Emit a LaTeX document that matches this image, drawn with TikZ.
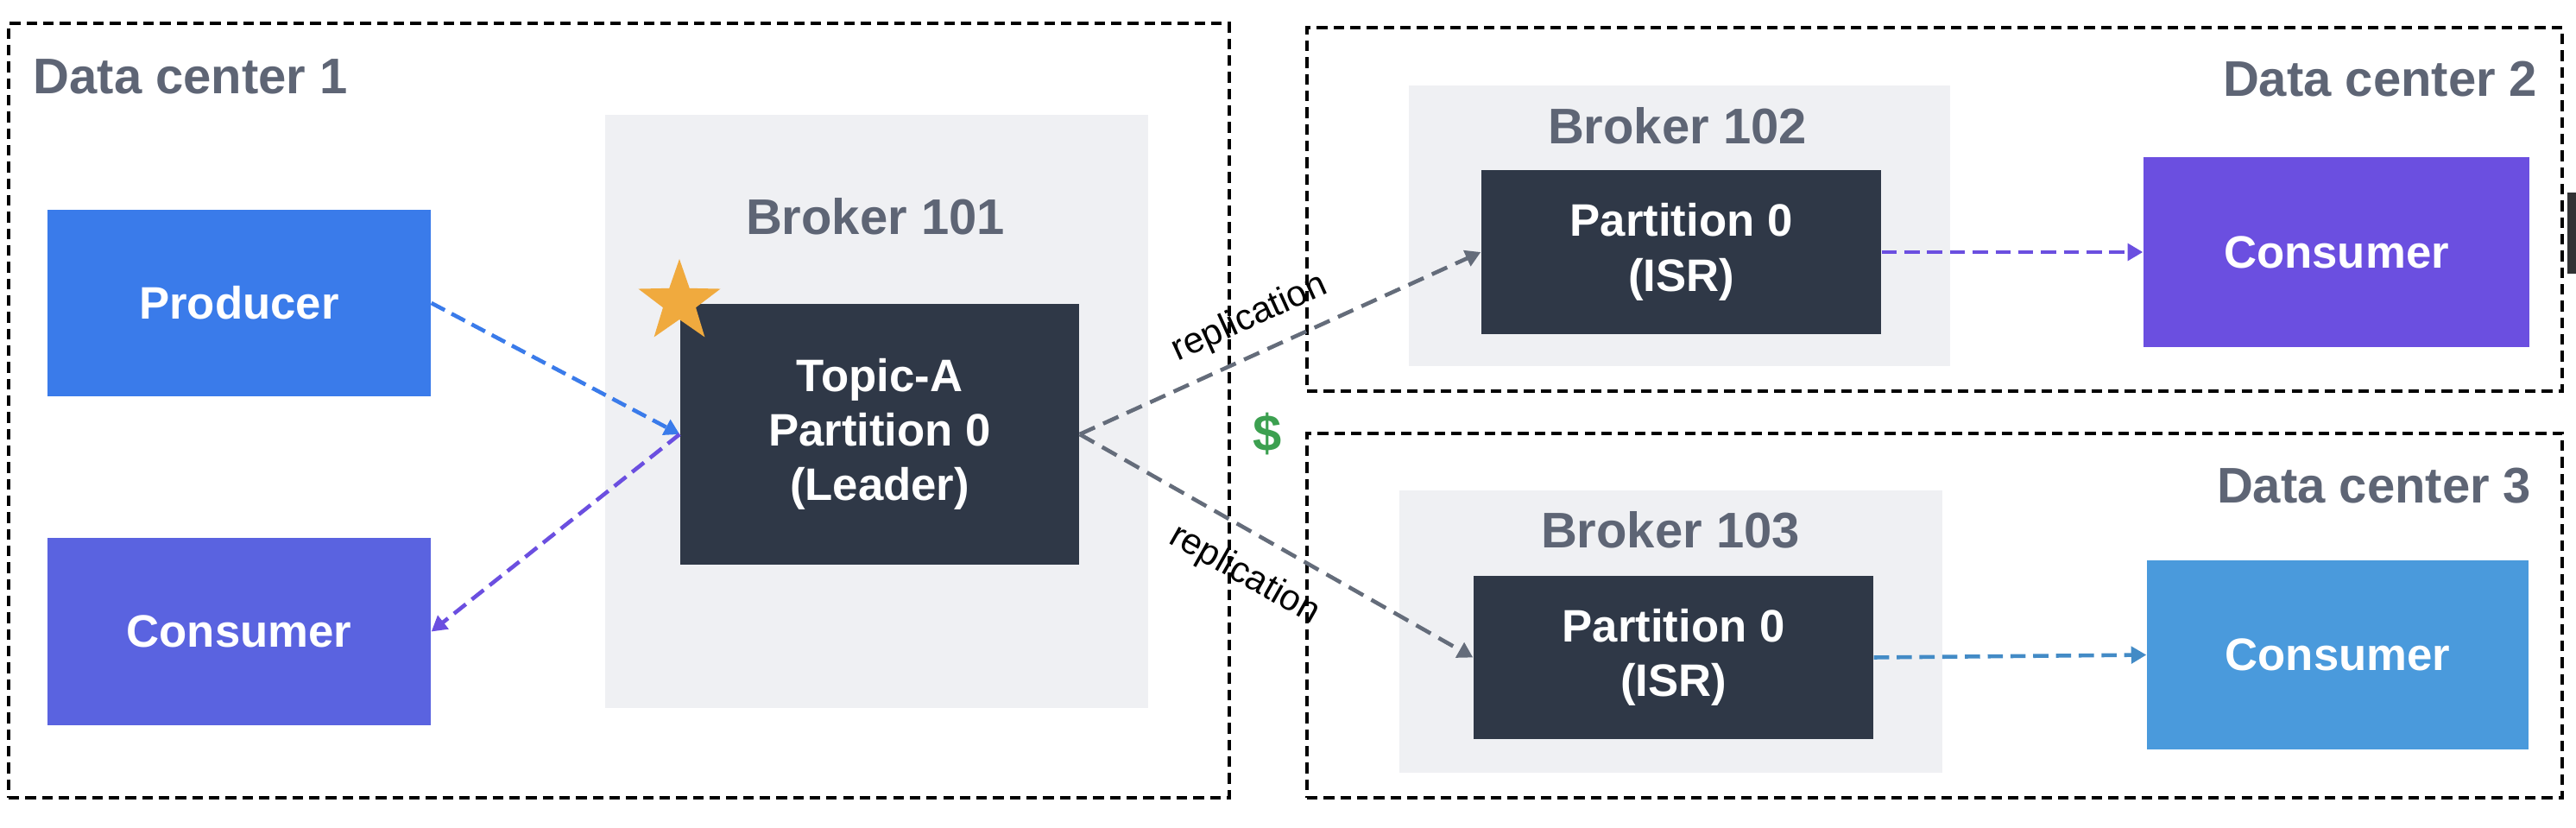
\documentclass[tikz,border=0pt]{standalone}
\usepackage{fontspec}
\setmainfont{Liberation Sans}
\usetikzlibrary{arrows.meta,shapes.geometric}
\definecolor{kfProducer}{RGB}{58,123,234}
\definecolor{kfConsA}{RGB}{90,99,224}
\definecolor{kfConsB}{RGB}{107,79,224}
\definecolor{kfConsC}{RGB}{74,154,220}
\definecolor{kfDark}{RGB}{47,56,71}
\definecolor{kfGrey}{RGB}{239,240,243}
\definecolor{kfSlate}{RGB}{94,101,117}
\definecolor{kfArrow}{RGB}{100,108,122}
\definecolor{kfGreen}{RGB}{60,160,80}
\definecolor{kfStar}{RGB}{240,170,62}
\definecolor{kfBar}{RGB}{50,50,52}
\newcommand{\kfBoxFont}{\fontsize{15pt}{18pt}\selectfont\bfseries}
\newcommand{\kfHeadFont}{\fontsize{16.5pt}{19pt}\selectfont\bfseries}
\newcommand{\kfLabelFont}{\fontsize{12pt}{14pt}\selectfont}
\tikzset{
  dcbox/.style={draw=black,line width=0.9pt,dash pattern=on 3.5pt off 2pt,rectangle,inner sep=0pt},
  brokerbox/.style={fill=kfGrey,rectangle,inner sep=0pt},
  partbox/.style={fill=kfDark,text=white,rectangle,align=center,font=\kfBoxFont,inner sep=0pt},
  clientbox/.style={text=white,rectangle,align=center,font=\kfBoxFont,inner sep=0pt},
  headlabel/.style={text=kfSlate,font=\kfHeadFont,inner sep=0pt},
  flow/.style={line width=1.3pt,dash pattern=on 5pt off 2.5pt,-{Triangle[length=5pt,width=5.5pt]}},
  repl/.style={draw=kfArrow,line width=1.3pt,dash pattern=on 5.5pt off 3pt,-{Triangle[length=5pt,width=5.5pt]}},
  repllabel/.style={font=\kfLabelFont,text=black,sloped}
}
\begin{document}
\begin{tikzpicture}
    \useasboundingbox (0,0) rectangle (29.84,9.58);

    % Data centers (dashed frames)
    \node[dcbox,minimum width=14.14cm,minimum height=8.97cm] (dcA) at (7.17,4.825) {};
    \node[dcbox,minimum width=14.54cm,minimum height=4.21cm] (dcB) at (22.41,7.155) {};
    \node[dcbox,minimum width=14.54cm,minimum height=4.22cm] (dcC) at (22.41,2.45) {};
    \node[headlabel,anchor=base west] (dcAlabel) at (0.38,8.49) {Data center 1};
    \node[headlabel,anchor=base east] (dcBlabel) at (29.40,8.46) {Data center 2};
    \node[headlabel,anchor=base east] (dcClabel) at (29.33,3.75) {Data center 3};

    % Brokers
    \node[brokerbox,minimum width=6.29cm,minimum height=6.87cm] (brokerA) at (10.155,4.815) {};
    \node[brokerbox,minimum width=6.27cm,minimum height=3.25cm] (brokerB) at (19.455,6.965) {};
    \node[brokerbox,minimum width=6.29cm,minimum height=3.27cm] (brokerC) at (19.355,2.265) {};
    \node[headlabel,anchor=base] (brokerAlabel) at (10.14,6.86) {Broker 101};
    \node[headlabel,anchor=base] (brokerBlabel) at (19.43,7.91) {Broker 102};
    \node[headlabel,anchor=base] (brokerClabel) at (19.35,3.23) {Broker 103};

    % Partitions
    \node[partbox,minimum width=4.62cm,minimum height=3.02cm] (leader) at (10.19,4.55) {Topic-A\\Partition 0\\(Leader)};
    \node[partbox,minimum width=4.63cm,minimum height=1.90cm] (isrB) at (19.475,6.66) {Partition 0\\(ISR)};
    \node[partbox,minimum width=4.63cm,minimum height=1.89cm] (isrC) at (19.385,1.965) {Partition 0\\(ISR)};

    % Clients
    \node[clientbox,fill=kfProducer,minimum width=4.44cm,minimum height=2.16cm] (producer) at (2.77,6.07) {Producer};
    \node[clientbox,fill=kfConsA,minimum width=4.44cm,minimum height=2.17cm] (consA) at (2.77,2.265) {Consumer};
    \node[clientbox,fill=kfConsB,minimum width=4.47cm,minimum height=2.20cm] (consB) at (27.065,6.66) {Consumer};
    \node[clientbox,fill=kfConsC,minimum width=4.42cm,minimum height=2.19cm] (consC) at (27.08,1.995) {Consumer};

    % Leader mark and cost
    \node[star,star points=5,star point ratio=2.5,fill=kfStar,minimum size=1cm,inner sep=0pt] (leadstar) at (7.87,6.08) {};
    \node[text=kfGreen,font=\fontsize{17pt}{20pt}\selectfont\bfseries,inner sep=0pt] (cost) at (14.68,4.55) {\$};

    % Data flow
    \draw[flow,draw=kfProducer,kfProducer] (producer.east) -- (leader.west);
    \draw[flow,draw=kfConsB,kfConsB] (leader.west) -- (consA.east);
    \draw[repl] (leader.east) -- node[repllabel,pos=0.46,above=2pt] {replication} (isrB.west);
    \draw[repl] (leader.east) -- node[repllabel,pos=0.47,below=4pt] {replication} (isrC.west);
    \draw[flow,draw=kfConsB,kfConsB] (isrB.east) -- (consB.west);
    \draw[flow,draw=kfConsC!90!black,kfConsC!90!black] (isrC.east) -- (consC.west);

    % edge of window at right
    \fill[kfBar] (29.74,7.35) rectangle (29.84,6.41);
\end{tikzpicture}
\end{document}
